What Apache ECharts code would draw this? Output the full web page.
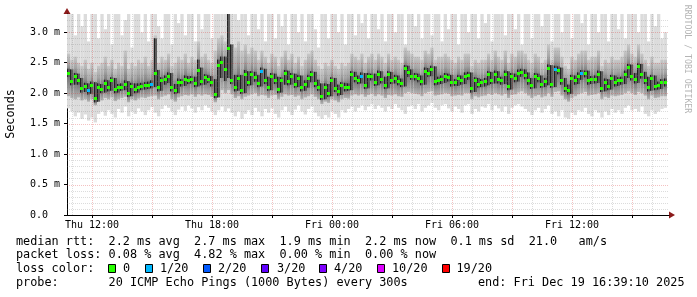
<!DOCTYPE html>
<html><head><meta charset="utf-8">
<script src="https://cdn.jsdelivr.net/npm/echarts@6/dist/echarts.min.js"></script>
<style>html,body{margin:0;padding:0;background:#fff}#c{width:697px;height:297px}</style>
</head><body><div id="c"></div>
<script>
// time: hours since Thu 00:00, one sample every 10 minutes
const startHour = 10.75;
const stepHours = 1 / 6;

// median rtt (ms)
const median = [
 2.33,2.19,2.27,2.20,2.07,2.11,2.04,2.13,1.91,2.10,
 2.06,2.16,2.09,2.20,2.06,2.09,2.10,2.15,2.00,2.11,
 2.06,2.10,2.11,2.12,2.13,2.15,2.33,2.09,2.20,2.23,
 2.28,2.09,2.05,2.18,2.17,2.23,2.21,2.22,2.16,2.37,
 2.19,2.25,2.23,2.17,1.98,2.46,2.51,2.39,2.73,2.21,
 2.09,2.24,2.05,2.30,2.18,2.30,2.25,2.16,2.35,2.21,
 2.10,2.27,2.21,2.06,2.20,2.32,2.19,2.27,2.15,2.24,
 2.09,2.15,2.24,2.30,2.16,2.10,1.95,2.10,2.00,2.20,
 2.08,2.02,2.12,2.09,2.10,2.30,2.24,2.21,2.28,2.13,
 2.27,2.27,2.18,2.31,2.22,2.13,2.30,2.21,2.24,2.19,
 2.16,2.40,2.34,2.28,2.27,2.24,2.19,2.36,2.33,2.39,
 2.19,2.21,2.23,2.27,2.25,2.17,2.17,2.24,2.20,2.28,
 2.29,2.07,2.20,2.15,2.17,2.19,2.30,2.21,2.31,2.22,
 2.20,2.31,2.11,2.27,2.24,2.33,2.34,2.29,2.20,2.13,
 2.27,2.24,2.15,2.19,2.41,2.15,2.39,2.37,2.20,2.08,
 2.04,2.24,2.20,2.28,2.32,2.32,2.20,2.22,2.23,2.31,
 2.08,2.18,2.11,2.24,2.17,2.20,2.21,2.31,2.42,2.27,
 2.22,2.43,2.30,2.21,2.09,2.24,2.11,2.13,2.17,2.18];

// smoke: highest ping (ms)
const smokeMax = [
 3.30,3.30,2.95,3.30,3.10,3.30,2.85,3.30,3.30,2.90,
 3.30,3.05,3.30,2.80,3.30,3.30,2.95,3.20,3.30,2.75,
 3.30,3.30,3.00,3.30,2.85,3.30,3.30,3.10,2.90,3.30,
 3.30,2.80,3.30,3.15,3.30,2.95,3.30,3.30,2.85,3.30,
 3.05,3.30,3.30,2.90,3.30,3.30,3.30,3.30,3.30,3.30,
 3.30,3.20,3.30,3.30,2.95,3.30,3.30,3.05,3.30,2.85,
 3.30,3.30,2.90,3.30,3.10,3.30,2.80,3.30,3.30,3.00,
 3.30,2.85,3.30,3.30,3.05,2.75,3.30,3.30,2.90,3.30,
 3.30,3.00,3.30,2.80,3.30,3.30,2.95,3.30,3.15,3.30,
 2.90,3.30,3.30,3.05,3.30,2.85,3.30,3.30,3.00,3.30,
 3.30,2.80,3.30,3.30,3.10,3.30,2.90,3.30,3.30,2.95,
 3.30,3.30,2.85,3.30,3.05,3.30,3.30,2.80,3.30,3.30,
 3.00,3.30,3.30,2.90,3.30,3.15,3.30,2.85,3.30,3.30,
 3.30,2.95,3.30,3.30,3.05,3.30,2.80,3.30,3.30,2.90,
 3.30,3.30,3.10,3.30,3.30,2.85,3.30,3.30,3.00,3.30,
 3.30,2.90,3.30,3.30,3.15,3.30,2.80,3.30,3.30,3.00,
 3.30,3.30,2.85,3.30,3.30,3.05,3.30,2.90,3.30,3.30,
 3.30,3.00,3.30,3.30,2.85,3.30,3.10,3.30,2.90,3.00];

// smoke: upper edge of the dense part (ms)
const smokeHi = [
 2.65,2.55,2.60,2.50,2.45,2.55,2.40,2.50,2.35,2.45,
 2.50,2.60,2.45,2.55,2.40,2.50,2.45,2.70,2.40,2.50,
 2.45,2.55,2.50,2.60,2.45,2.55,2.95,2.50,2.60,2.55,
 2.65,2.45,2.50,2.60,2.55,2.65,2.50,2.60,2.55,2.85,
 2.60,2.65,2.55,2.50,2.70,2.90,2.95,2.85,3.10,2.80,
 2.75,2.85,2.70,2.80,2.65,2.75,2.70,2.55,2.70,2.60,
 2.50,2.65,2.60,2.45,2.60,2.70,2.55,2.65,2.50,2.60,
 2.45,2.55,2.65,2.70,2.55,2.45,2.40,2.50,2.45,2.55,
 2.45,2.40,2.50,2.45,2.50,2.65,2.60,2.55,2.65,2.50,
 2.60,2.65,2.55,2.65,2.60,2.50,2.65,2.55,2.60,2.55,
 2.50,2.75,2.70,2.65,2.60,2.60,2.55,2.70,2.65,2.75,
 2.55,2.60,2.60,2.65,2.60,2.55,2.50,2.60,2.55,2.65,
 2.65,2.45,2.55,2.50,2.55,2.55,2.65,2.55,2.70,2.60,
 2.55,2.70,2.50,2.65,2.60,2.70,2.70,2.65,2.55,2.50,
 2.65,2.60,2.50,2.55,2.80,2.55,2.75,2.75,2.60,2.45,
 2.40,2.60,2.55,2.65,2.70,2.70,2.55,2.60,2.60,2.70,
 2.45,2.55,2.50,2.60,2.55,2.55,2.60,2.70,2.80,2.65,
 2.60,2.80,2.65,2.55,2.45,2.60,2.50,2.50,2.55,2.55];

// smoke: dark core around the median, upper edge (ms)
const coreHi = [
 2.40,2.39,2.33,2.32,2.25,2.17,2.16,2.19,2.18,2.16,
 2.15,2.22,2.21,2.26,2.25,2.15,2.16,2.21,2.20,2.17,
 2.16,2.16,2.17,2.18,2.19,2.21,2.90,2.38,2.26,2.29,
 2.34,2.33,2.15,2.24,2.23,2.29,2.28,2.28,2.27,2.55,
 2.42,2.31,2.30,2.28,2.23,2.55,2.60,2.60,3.30,2.80,
 2.30,2.30,2.30,2.38,2.36,2.36,2.35,2.30,2.42,2.40,
 2.27,2.33,2.32,2.27,2.26,2.38,2.37,2.33,2.32,2.30,
 2.29,2.21,2.30,2.36,2.35,2.22,2.16,2.16,2.15,2.26,
 2.25,2.14,2.18,2.17,2.16,2.36,2.35,2.29,2.34,2.33,
 2.33,2.32,2.32,2.37,2.36,2.27,2.36,2.35,2.30,2.29,
 2.24,2.46,2.45,2.39,2.33,2.32,2.29,2.42,2.41,2.45,
 2.44,2.27,2.29,2.33,2.32,2.30,2.23,2.30,2.29,2.34,
 2.35,2.34,2.26,2.25,2.23,2.25,2.36,2.35,2.37,2.36,
 2.27,2.37,2.36,2.33,2.32,2.39,2.40,2.39,2.34,2.25,
 2.33,2.32,2.29,2.25,2.47,2.46,2.45,2.44,2.42,2.25,
 2.14,2.30,2.29,2.34,2.38,2.37,2.37,2.28,2.29,2.37,
 2.36,2.24,2.23,2.30,2.29,2.26,2.27,2.37,2.48,2.47,
 2.33,2.49,2.48,2.35,2.27,2.30,2.29,2.19,2.23,2.24];

// smoke: dark core, lower edge (ms)
const coreLo = [
 2.27,2.13,2.14,2.14,2.01,2.02,1.98,1.99,1.85,1.86,
 2.00,2.01,2.03,2.04,2.00,2.01,2.04,2.05,1.94,1.95,
 2.00,2.01,2.05,2.06,2.07,2.08,2.10,2.03,2.04,2.14,
 2.17,2.03,1.99,2.00,2.11,2.12,2.15,2.16,2.10,2.11,
 2.13,2.14,2.17,2.11,1.92,1.93,2.25,2.20,2.25,2.15,
 2.03,2.04,1.99,2.00,2.12,2.13,2.19,2.10,2.11,2.15,
 2.04,2.05,2.15,2.00,2.01,2.14,2.13,2.14,2.09,2.10,
 2.03,2.04,2.09,2.18,2.10,2.04,1.89,1.90,1.94,1.95,
 2.02,1.96,1.97,2.03,2.04,2.05,2.18,2.15,2.16,2.07,
 2.08,2.21,2.12,2.13,2.16,2.07,2.08,2.15,2.16,2.13,
 2.10,2.11,2.27,2.22,2.21,2.18,2.13,2.14,2.27,2.28,
 2.13,2.14,2.15,2.17,2.19,2.11,2.12,2.12,2.14,2.15,
 2.22,2.01,2.02,2.09,2.10,2.11,2.13,2.15,2.16,2.16,
 2.14,2.15,2.05,2.06,2.18,2.19,2.27,2.23,2.14,2.07,
 2.08,2.18,2.09,2.10,2.13,2.09,2.10,2.31,2.14,2.02,
 1.98,1.99,2.14,2.15,2.22,2.26,2.14,2.15,2.16,2.17,
 2.02,2.03,2.05,2.06,2.11,2.12,2.14,2.15,2.25,2.21,
 2.16,2.17,2.24,2.15,2.03,2.04,2.05,2.06,2.07,2.11];

// smoke: lower edge of the dense part (ms)
const smokeLo = [
 1.95,1.92,1.90,1.93,1.88,1.90,1.86,1.90,1.80,1.88,
 1.88,1.92,1.90,1.93,1.87,1.90,1.92,1.94,1.85,1.90,
 1.88,1.91,1.93,1.92,1.94,1.95,1.96,1.90,1.94,1.96,
 1.98,1.90,1.86,1.93,1.95,1.97,1.96,1.98,1.94,1.98,
 1.96,1.98,1.97,1.94,1.85,1.95,2.05,2.00,2.05,1.98,
 1.92,1.95,1.90,1.94,1.96,1.98,2.00,1.95,1.97,1.96,
 1.92,1.96,1.97,1.90,1.94,1.98,1.96,1.97,1.94,1.96,
 1.90,1.93,1.95,1.98,1.94,1.90,1.82,1.86,1.84,1.90,
 1.88,1.85,1.90,1.92,1.91,1.96,1.98,1.96,1.98,1.94,
 1.97,1.99,1.95,1.98,1.96,1.92,1.97,1.96,1.98,1.95,
 1.94,2.00,2.02,2.00,1.99,1.98,1.95,2.00,2.02,2.03,
 1.96,1.97,1.98,2.00,1.99,1.95,1.96,1.97,1.96,2.00,
 2.00,1.90,1.95,1.93,1.95,1.96,1.99,1.97,2.00,1.98,
 1.96,1.99,1.92,1.97,1.98,2.01,2.03,2.00,1.96,1.92,
 1.95,1.97,1.93,1.95,2.00,1.94,2.02,2.03,1.96,1.90,
 1.86,1.92,1.95,1.98,2.00,2.02,1.96,1.97,1.98,2.00,
 1.90,1.94,1.92,1.96,1.95,1.96,1.97,2.00,2.03,2.00,
 1.97,2.02,2.00,1.96,1.90,1.96,1.92,1.93,1.95,1.95];

// smoke: lowest ping (ms)
const smokeMin = [
 1.75,1.70,1.62,1.68,1.58,1.65,1.55,1.60,1.52,1.66,
 1.70,1.63,1.72,1.66,1.60,1.74,1.68,1.78,1.62,1.70,
 1.66,1.75,1.70,1.64,1.72,1.77,1.68,1.62,1.74,1.80,
 1.76,1.70,1.64,1.73,1.78,1.71,1.80,1.75,1.68,1.77,
 1.72,1.80,1.76,1.70,1.64,1.72,1.78,1.70,1.75,1.68,
 1.62,1.70,1.58,1.66,1.72,1.64,1.76,1.70,1.62,1.74,
 1.68,1.75,1.66,1.60,1.72,1.78,1.70,1.64,1.73,1.80,
 1.70,1.65,1.74,1.78,1.68,1.62,1.58,1.64,1.60,1.70,
 1.66,1.60,1.72,1.68,1.74,1.78,1.70,1.76,1.80,1.72,
 1.78,1.82,1.74,1.80,1.76,1.70,1.78,1.74,1.82,1.76,
 1.72,1.66,1.78,1.80,1.74,1.82,1.70,1.76,1.80,1.84,
 1.76,1.72,1.80,1.82,1.75,1.70,1.78,1.74,1.68,1.80,
 1.82,1.66,1.74,1.70,1.78,1.76,1.82,1.72,1.80,1.75,
 1.70,1.78,1.66,1.76,1.80,1.82,1.78,1.74,1.70,1.64,
 1.72,1.76,1.68,1.74,1.80,1.66,1.70,1.62,1.72,1.60,
 1.58,1.68,1.64,1.72,1.70,1.76,1.66,1.62,1.72,1.68,
 1.60,1.70,1.64,1.74,1.68,1.72,1.66,1.76,1.80,1.72,
 1.74,1.70,1.78,1.66,1.62,1.72,1.66,1.70,1.74,1.76];

// samples with packet loss (sample index, lost pings of 20)
const lossIdx = [6, 25, 58, 88, 146, 154];
const lossCnt = [1, 1, 1, 1, 1, 1];

// axes
const xLabelHours = [12, 18, 24, 30, 36];
const xLabelText = ['Thu 12:00', 'Thu 18:00', 'Fri 00:00', 'Fri 06:00', 'Fri 12:00'];
const yLabelValues = [0, 0.5, 1, 1.5, 2, 2.5, 3];
const yLabelText = ['0.0  ', '0.5 m', '1.0 m', '1.5 m', '2.0 m', '2.5 m', '3.0 m'];

// legend texts
const legendRow1 = 'median rtt:  2.2 ms avg  2.7 ms max  1.9 ms min  2.2 ms now  0.1 ms sd  21.0   am/s';
const legendRow2 = 'packet loss: 0.08 % avg  4.82 % max  0.00 % min  0.00 % now';
const legendRow3 = 'loss color:';
const legendRow4 = 'probe:       20 ICMP Echo Pings (1000 Bytes) every 300s';
const legendEnd = 'end: Fri Dec 19 16:39:10 2025';
const lossLegendLabels = ['0', '1/20', '2/20', '3/20', '4/20', '10/20', '19/20'];
const lossLegendColors = ['#26ff00', '#00b8ff', '#0059ff', '#5e00ff', '#7e00ff', '#dd00ff', '#ff0000'];
const lossLegendThresh = [0, 1, 2, 3, 4, 10, 19];

function lossColor(n) {
  let c = lossLegendColors[0];
  for (let k = 0; k < lossLegendThresh.length; k++) if (n >= lossLegendThresh[k]) c = lossLegendColors[k];
  return c;
}
function lossOf(i) { const k = lossIdx.indexOf(i); return k < 0 ? 0 : lossCnt[k]; }

const smokeData = median.map((m, i) => [startHour + i * stepHours, smokeMin[i], smokeLo[i], coreLo[i], m, coreHi[i], smokeHi[i], smokeMax[i]]);
const dotData = median.map((m, i) => [startHour + i * stepHours, m, lossOf(i)]);

const gridData = [];
for (let h = 11; h <= 40; h++) gridData.push([0, h, h % 3 === 0 ? 1 : 0]);
for (let k = 1; k <= 32; k++) gridData.push([1, k / 10, k % 5 === 0 ? 1 : 0]);

const MONO = '"DejaVu Sans Mono", monospace';

function renderSmoke(params, api) {
  const t = api.value(0);
  const xa = api.coord([t, 0])[0], xb = api.coord([t + stepHours, 0])[0];
  const Y = v => api.coord([t, v])[1];
  const band = (lo, hi, fill) => ({ type: 'rect', shape: { x: xa, y: Y(hi), width: xb - xa, height: Y(lo) - Y(hi) }, style: { fill } });
  const yHi = Y(api.value(6)), yLo = Y(api.value(2)), yMed = Y(api.value(4));
  let f = (yMed - yHi) / Math.max(1, (yLo - yHi));
  f = Math.min(0.95, Math.max(0.05, f));
  const grad = new echarts.graphic.LinearGradient(0, 0, 0, 1, [
    { offset: 0, color: '#c8c8c8' }, { offset: f * 0.55, color: '#a4a4a4' }, { offset: f, color: '#6c6c6c' },
    { offset: f + (1 - f) * 0.5, color: '#8e8e8e' }, { offset: 1, color: '#b4b4b4' }]);
  const lx = Math.round(xa) + 0.5;
  return { type: 'group', children: [
    band(api.value(1), api.value(7), '#dcdcdc'),
    band(api.value(2), api.value(6), grad),
    band(api.value(3), api.value(5), '#5c5c5c'),
    { type: 'line', shape: { x1: lx, y1: Y(api.value(3)), x2: lx, y2: Y(api.value(5)) }, style: { stroke: '#222222', lineWidth: 1 } }
  ] };
}
function renderDot(params, api) {
  const t = api.value(0);
  const p = api.coord([t, api.value(1)]);
  const xa = Math.round(api.coord([t, 0])[0]);
  return { type: 'rect', shape: { x: xa, y: Math.round(p[1] - 1.5), width: 3, height: 3 }, style: { fill: lossColor(api.value(2)) } };
}
function renderGrid(params, api) {
  const cs = params.coordSys;
  const o = api.value(0), v = api.value(1), major = api.value(2);
  const stroke = major ? 'rgba(220,50,50,0.30)' : 'rgba(120,120,120,0.26)';
  if (o === 0) {
    const x = Math.round(api.coord([v, 0])[0]) + 0.5;
    return { type: 'line', shape: { x1: x, y1: cs.y, x2: x, y2: cs.y + cs.height }, style: { stroke, lineWidth: 1, lineDash: [1, 1] } };
  }
  const y = Math.round(api.coord([startHour, v])[1]) + 0.5;
  return { type: 'line', shape: { x1: cs.x, y1: y, x2: cs.x + cs.width, y2: y }, style: { stroke, lineWidth: 1, lineDash: [1, 1] } };
}

const graphics = [
  { type: 'text', x: 11, y: 114, rotation: Math.PI / 2, silent: true,
    style: { text: 'Seconds', fill: '#000', fontSize: 11.8, fontFamily: MONO, align: 'center', verticalAlign: 'middle' } },
  { type: 'text', x: 687.5, y: 59, rotation: -Math.PI / 2, silent: true,
    style: { text: 'RRDTOOL / TOBI OETIKER', fill: '#b4b4b4', fontSize: 8.2, fontFamily: MONO, align: 'center', verticalAlign: 'middle' } },
  { type: 'polygon', silent: true, shape: { points: [[63.5, 14], [70.5, 14], [67, 8]] }, style: { fill: '#8b1a1a' } },
  { type: 'polygon', silent: true, shape: { points: [[669, 211.5], [669, 218.5], [675, 215]] }, style: { fill: '#8b1a1a' } }
];
const rowY = [241.8, 255.4, 269.1, 282.6];
[legendRow1, legendRow2, legendRow3, legendRow4].forEach((t, k) => {
  graphics.push({ type: 'text', x: 16, y: rowY[k], silent: true,
    style: { text: t, fill: '#000', fontSize: 11.83, fontFamily: MONO, align: 'left', verticalAlign: 'middle' } });
});
graphics.push({ type: 'text', x: 478, y: rowY[3], silent: true,
  style: { text: legendEnd, fill: '#000', fontSize: 11.83, fontFamily: MONO, align: 'left', verticalAlign: 'middle' } });
const boxX = [108.5, 145.5, 203.5, 261.5, 319.5, 377.5, 442.5];
const boxTextX = [123, 160, 218, 277, 334, 392, 456.5];
lossLegendLabels.forEach((lab, k) => {
  graphics.push({ type: 'rect', silent: true, shape: { x: boxX[k], y: 264.5, width: 7, height: 8 },
    style: { fill: lossLegendColors[k], stroke: '#000', lineWidth: 1 } });
  graphics.push({ type: 'text', x: boxTextX[k], y: rowY[2], silent: true,
    style: { text: lab, fill: '#000', fontSize: 11.83, fontFamily: MONO, align: 'left', verticalAlign: 'middle' } });
});

const chart = echarts.init(document.getElementById('c'), null, { renderer: 'canvas', width: 697, height: 297 });
chart.setOption({
  animation: false,
  backgroundColor: '#ffffff',
  grid: { left: 67, right: 28, top: 14, bottom: 82, containLabel: false },
  xAxis: {
    type: 'value', min: 10.75, max: 40.85,
    axisLine: { show: true, lineStyle: { color: '#000', width: 1 } },
    axisTick: { show: true, length: 3, customValues: [12, 15, 18, 21, 24, 27, 30, 33, 36, 39], lineStyle: { color: '#000' } },
    axisLabel: { show: true, customValues: xLabelHours, margin: 5, color: '#000', fontSize: 10, fontFamily: MONO,
      formatter: v => xLabelText[xLabelHours.indexOf(v)] || '' },
    splitLine: { show: false }
  },
  yAxis: {
    type: 'value', min: 0, max: 3.3,
    axisLine: { show: true, lineStyle: { color: '#000', width: 1 } },
    axisTick: { show: true, length: 3, customValues: yLabelValues, lineStyle: { color: '#000' } },
    axisLabel: { show: true, customValues: yLabelValues, margin: 7, color: '#000', fontSize: 10, fontFamily: MONO,
      formatter: v => yLabelText[yLabelValues.indexOf(v)] || '' },
    splitLine: { show: false }
  },
  series: [
    { type: 'custom', name: 'smoke', renderItem: renderSmoke, data: smokeData, clip: true, z: 2, silent: true,
      encode: { x: 0, y: [1, 7] } },
    { type: 'custom', name: 'grid', renderItem: renderGrid, data: gridData, z: 3, silent: true,
      encode: { x: 1, y: 1 } },
    { type: 'custom', name: 'median', renderItem: renderDot, data: dotData, clip: true, z: 4, silent: true,
      encode: { x: 0, y: 1 } }
  ],
  graphic: graphics
});
</script></body></html>
